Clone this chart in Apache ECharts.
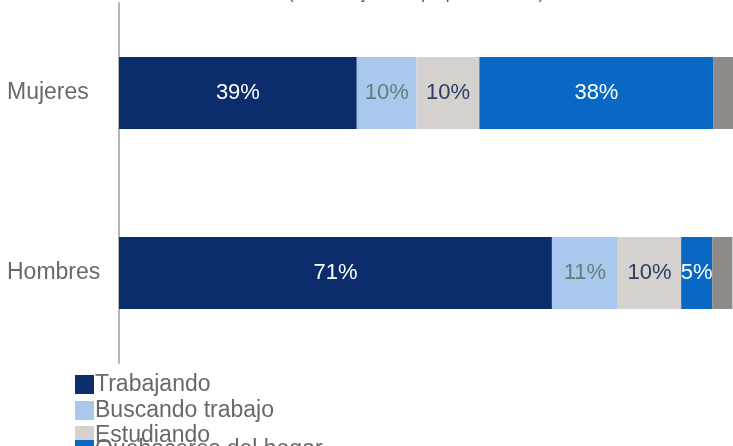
<!DOCTYPE html>
<html>
<head>
<meta charset="utf-8">
<script src="https://cdn.jsdelivr.net/npm/echarts@6/dist/echarts.min.js"></script>
<style>
  html, body { margin: 0; padding: 0; background: #fff; }
  #chart { width: 733px; height: 446px; }
</style>
</head>
<body>
<div id="chart"></div>
<script>
const categories = ["Hombres", "Mujeres"]
const trabajando = [71, 39]
const buscando = [10.8, 9.8]
const estudiando = [10.4, 10.3]
const hogar = [5.1, 38.4]
const otro = [3.3, 3.2]
const legendNames = ["Trabajando", "Buscando trabajo", "Estudiando", "Quehaceres del hogar"]
const legendTops = [368, 394, 419, 433]

const chartDom = document.getElementById("chart")
const myChart = echarts.init(chartDom)

const pct = (p) => Math.round(p.value) + "%"
const mkLabel = (color) => ({
  show: true,
  position: "inside",
  color: color,
  fontSize: 22,
  fontFamily: "Liberation Sans",
  formatter: pct,
})

// one legend per line, so the list does not wrap into columns
const legends = legendNames.map((name, i) => ({
  orient: "vertical",
  left: 70,
  top: legendTops[i],
  itemWidth: 19,
  itemHeight: 19,
  icon: "rect",
  textStyle: { color: "#666a66", fontSize: 23, padding: [0, 0, 0, -4] },
  data: [name],
}))

const option = {
  animation: false,
  textStyle: { fontFamily: "Liberation Sans" },
  title: {
    text: "(Porcentaje de la proporción total)",
    left: 411,
    textAlign: "center",
    top: -19,
    textStyle: { color: "#2f5aa0", fontSize: 17, fontWeight: "normal" },
  },
  legend: legends,
  grid: { left: 119, right: 0, top: 3, bottom: 83 },
  xAxis: {
    type: "value",
    min: 0,
    max: 100.7,
    show: false,
  },
  yAxis: {
    type: "category",
    data: categories,
    axisLine: { show: true, lineStyle: { color: "#b5b5b5", width: 2 } },
    axisTick: { show: false },
    axisLabel: {
      color: "#666a66",
      fontSize: 23,
      margin: 112,
      align: "left",
      padding: [8, 0, 0, 0],
    },
  },
  series: [
    {
      name: "Trabajando",
      type: "bar",
      stack: "t",
      barWidth: 72,
      data: trabajando,
      itemStyle: { color: "#0c2d6b" },
      label: mkLabel("#ffffff"),
    },
    {
      name: "Buscando trabajo",
      type: "bar",
      stack: "t",
      data: buscando,
      itemStyle: { color: "#a9c8ee" },
      label: mkLabel("#667c78"),
    },
    {
      name: "Estudiando",
      type: "bar",
      stack: "t",
      data: estudiando,
      itemStyle: { color: "#d4d1ce" },
      label: mkLabel("#2c3e62"),
    },
    {
      name: "Quehaceres del hogar",
      type: "bar",
      stack: "t",
      data: hogar,
      itemStyle: { color: "#0868c4" },
      label: mkLabel("#ffffff"),
    },
    {
      name: "Otro",
      type: "bar",
      stack: "t",
      data: otro,
      itemStyle: { color: "#8e8a87" },
    },
  ],
}

option && myChart.setOption(option)
</script>
</body>
</html>
